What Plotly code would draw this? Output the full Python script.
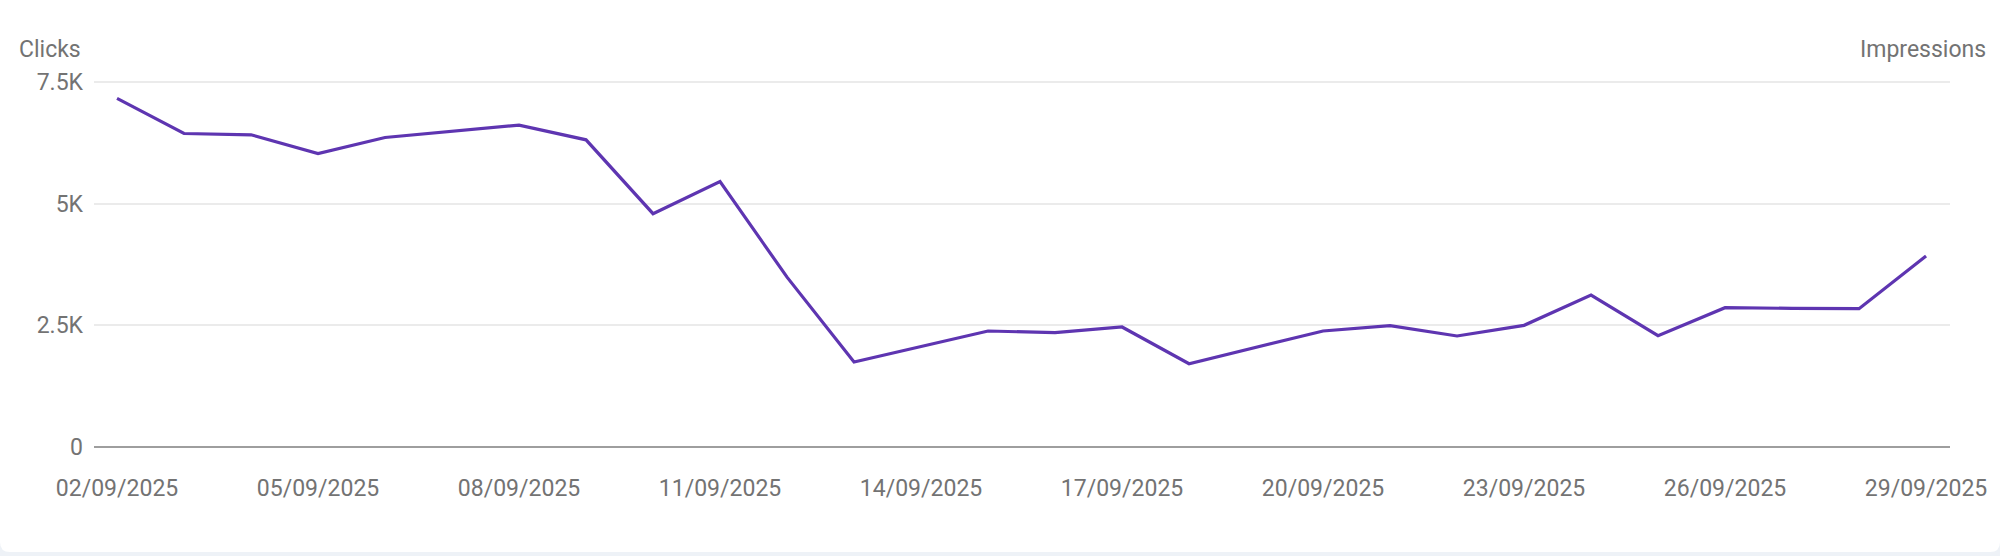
import plotly.graph_objects as go

dates = [
    "2025-09-02", "2025-09-03", "2025-09-04", "2025-09-05", "2025-09-06", "2025-09-07", "2025-09-08",
    "2025-09-09", "2025-09-10", "2025-09-11", "2025-09-12", "2025-09-13", "2025-09-14", "2025-09-15",
    "2025-09-16", "2025-09-17", "2025-09-18", "2025-09-19", "2025-09-20", "2025-09-21", "2025-09-22",
    "2025-09-23", "2025-09-24", "2025-09-25", "2025-09-26", "2025-09-27", "2025-09-28", "2025-09-29",
]
clicks = [
    7163, 6442, 6415, 6030, 6360, 6490, 6614,
    6312, 4794, 5455, 3490, 1745, 2068, 2384,
    2349, 2466, 1712, 2055, 2384, 2495, 2281,
    2500, 3123, 2288, 2863, 2849, 2842, 3925,
]
y_ticks = [0, 2500, 5000, 7500]
y_tick_labels = ["0", "2.5K", "5K", "7.5K"]

W, H = 2000, 556
ML, MR, MT, MB = 94, 50, 80, 109
PW = W - ML - MR
PH = H - MT - MB
Y_MAX = 7500 * PH / (PH - 2)  # keep 7.5K gridline 2px below the top edge

TEXT = "#737373"
FONT = "Roboto"

fig = go.Figure()
fig.add_trace(go.Scatter(
    x=dates, y=clicks, mode="lines",
    line=dict(color="#5e35b1", width=3.2),
    hoverinfo="skip", showlegend=False,
))

# white card with rounded bottom corners over a light page background
def px_x(p):
    return (p - ML) / PW

def px_y(p):
    return (H - MB - p) / PH

card_bottom = 552
r = 10
path = (
    f"M {px_x(0)} {px_y(0)} L {px_x(W)} {px_y(0)} "
    f"L {px_x(W)} {px_y(card_bottom - r)} "
    f"Q {px_x(W)} {px_y(card_bottom)} {px_x(W - r)} {px_y(card_bottom)} "
    f"L {px_x(r)} {px_y(card_bottom)} "
    f"Q {px_x(0)} {px_y(card_bottom)} {px_x(0)} {px_y(card_bottom - r)} Z"
)

fig.update_layout(
    width=W, height=H,
    margin=dict(l=ML, r=MR, t=MT, b=MB, pad=0),
    paper_bgcolor="#eef2f7",
    plot_bgcolor="rgba(0,0,0,0)",
    font=dict(family=FONT, size=23, color=TEXT),
    shapes=[dict(type="path", xref="paper", yref="paper", path=path,
                 fillcolor="white", line=dict(width=0), layer="below")],
    xaxis=dict(
        type="date",
        range=["2025-09-01 15:45", "2025-09-29 08:35"],
        tick0="2025-09-02", dtick=3 * 24 * 3600 * 1000,
        tickformat="%d/%m/%Y",
        showgrid=False, zeroline=False, showline=False,
        ticks="", ticklabelstandoff=25,
        tickfont=dict(family=FONT, size=23, color=TEXT),
    ),
    yaxis=dict(
        range=[0, Y_MAX],
        tickvals=y_ticks, ticktext=y_tick_labels,
        showgrid=True, gridcolor="#ebebeb", gridwidth=1.5,
        zeroline=True, zerolinecolor="#9e9e9e", zerolinewidth=2,
        showline=False, ticks="", ticklabelstandoff=10,
        tickfont=dict(family=FONT, size=23, color=TEXT),
    ),
    annotations=[
        dict(text="Clicks", xref="paper", yref="paper", x=0, y=1,
             xanchor="right", yanchor="middle", xshift=-11, yshift=31,
             showarrow=False, font=dict(family=FONT, size=23, color=TEXT)),
        dict(text="Impressions", xref="paper", yref="paper", x=1, y=1,
             xanchor="right", yanchor="middle", xshift=38, yshift=31,
             showarrow=False, font=dict(family=FONT, size=23, color=TEXT)),
    ],
)

fig.write_html("out.html")
